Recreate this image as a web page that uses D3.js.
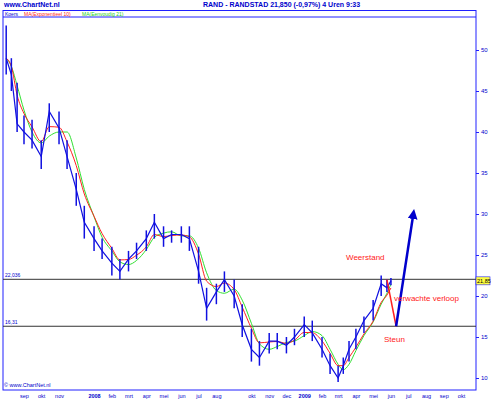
<!DOCTYPE html>
<html>
<head>
<meta charset="utf-8">
<script src="https://cdn.jsdelivr.net/npm/d3@7"></script>
<style>
body { margin: 0; background: #fff; }
text { font-family: Arial, "Liberation Sans", sans-serif; }
</style>
</head>
<body>
<div id="chart"></div>
<script>
// price readings, roughly every two weeks
const dates = ["2007-08-01","2007-08-10","2007-08-20","2007-09-01","2007-09-15","2007-10-01","2007-10-15","2007-11-01","2007-11-15","2007-12-01","2007-12-15","2008-01-01","2008-01-15","2008-02-01","2008-02-15","2008-03-01","2008-03-15","2008-04-01","2008-04-15","2008-05-01","2008-05-15","2008-06-01","2008-06-15","2008-07-01","2008-07-15","2008-08-01","2008-08-15","2008-09-01","2008-09-15","2008-10-01","2008-10-15","2008-11-01","2008-11-15","2008-12-01","2008-12-15","2009-01-01","2009-01-15","2009-02-01","2009-02-15","2009-03-01","2009-03-10","2009-03-20","2009-04-01","2009-04-15","2009-05-01","2009-05-15","2009-05-25","2009-06-01"];
const highs  = [53.0,49.0,46.0,42.0,41.5,39.0,43.5,42.5,39.0,35.0,31.0,28.5,27.0,26.0,24.5,25.5,26.5,28.0,30.0,28.5,28.0,28.5,28.5,26.0,21.0,21.5,23.0,22.0,19.0,16.0,14.5,15.5,15.5,15.0,16.0,17.5,17.0,15.0,13.0,11.5,12.5,14.5,16.0,17.5,19.5,22.5,22.0,22.2];
const lows   = [47.0,45.0,40.0,38.5,38.0,35.5,40.0,38.5,35.5,31.0,27.0,25.5,24.5,22.5,22.0,23.0,24.5,25.5,27.0,26.0,26.5,26.5,25.5,21.5,17.0,19.0,20.5,18.5,15.0,12.0,11.5,13.0,13.5,13.0,14.0,15.0,14.5,12.5,10.5,9.5,10.5,12.0,13.5,15.5,17.0,20.0,20.5,21.3];
const closes = [49.0,47.0,41.0,40.0,39.0,37.0,42.5,40.5,37.0,33.0,29.0,27.0,25.5,24.0,23.0,24.5,25.5,27.0,29.0,27.0,27.5,27.5,27.0,23.0,18.5,20.5,22.0,20.0,16.5,13.5,12.5,14.5,14.5,14.0,15.0,16.5,15.5,13.5,11.5,10.0,11.5,13.5,15.0,17.0,18.5,21.5,21.0,21.85];
const monthTicks = ["2007-09-01","2007-10-01","2007-11-01","2008-01-01","2008-02-01","2008-03-01","2008-04-01","2008-05-01","2008-06-01","2008-07-01","2008-08-01","2008-10-01","2008-11-01","2008-12-01","2009-01-01","2009-02-01","2009-03-01","2009-04-01","2009-05-01","2009-06-01","2009-07-01","2009-08-01","2009-09-01","2009-10-01"];
const monthNames = ["sep","okt","nov","2008","feb","mrt","apr","mei","jun","jul","aug","okt","nov","dec","2009","feb","mrt","apr","mei","jun","jul","aug","sep","okt"];
const yTicks = [10,15,20,25,30,35,40,45,50];
const resistance = 22.036, support = 16.31;
const forecastDates = ["2009-05-25","2009-06-10","2009-07-10"];
const forecastValues = [22.0, 16.31, 30.0];

const width = 500, height = 400;
const parse = d3.timeParse("%Y-%m-%d");
const data = dates.map((d, i) => ({ date: parse(d), h: highs[i], l: lows[i], c: closes[i] }));

const x = d3.scaleTime().domain([parse("2007-09-01"), parse("2009-10-01")]).range([24, 461]);
const y = d3.scaleLinear().domain([10, 50]).range([378, 50]);

const svg = d3.select("#chart").append("svg").attr("width", width).attr("height", height);

// header
svg.append("text").attr("x", 4).attr("y", 7).attr("font-size", 7).attr("font-weight", "bold").attr("fill", "#0000cc").text("www.ChartNet.nl");
svg.append("text").attr("x", 203).attr("y", 7).attr("font-size", 7).attr("font-weight", "bold").attr("fill", "#0000cc").text("RAND - RANDSTAD   21,850 (-0,97%)    4 Uren  9:33");

// frame
svg.append("rect").attr("x", 3).attr("y", 10.5).attr("width", 473).attr("height", 379.5).attr("fill", "none").attr("stroke", "#2020ff").attr("stroke-width", 1);
svg.append("line").attr("x1", 3).attr("x2", 476).attr("y1", 17).attr("y2", 17).attr("stroke", "#2020ff");
svg.append("text").attr("x", 5).attr("y", 15.5).attr("font-size", 5).attr("fill", "#0000cc").text("Koers");
svg.append("text").attr("x", 24).attr("y", 15.5).attr("font-size", 5).attr("fill", "#ff2020").text("MA(Exponentieel 10)");
svg.append("text").attr("x", 82).attr("y", 15.5).attr("font-size", 5).attr("fill", "#20d020").text("MA(Eenvoudig 21)");
svg.append("text").attr("x", 4).attr("y", 387).attr("font-size", 5.5).attr("fill", "#0000cc").text("\u00a9 www.ChartNet.nl");

// y axis on right
const yAxis = svg.append("g").attr("transform", "translate(476,0)")
  .call(d3.axisRight(y).tickValues(yTicks).tickSize(3).tickPadding(2));
yAxis.select(".domain").remove();
yAxis.selectAll("line").attr("stroke", "#2020ff");
yAxis.selectAll("text").attr("font-size", 6).attr("fill", "#0000cc");

// x axis
const xAxis = svg.append("g").attr("transform", "translate(0,390)")
  .call(d3.axisBottom(x).tickValues(monthTicks.map(parse)).tickFormat((d, i) => monthNames[i]).tickSize(0).tickPadding(4));
xAxis.select(".domain").remove();
xAxis.selectAll("text").attr("font-size", 5.5).attr("fill", "#0000cc")
  .attr("font-weight", (d, i) => monthNames[i].length === 4 ? "bold" : "normal");

// support / resistance
[resistance, support].forEach(v => {
  svg.append("line").attr("x1", 3).attr("x2", 476).attr("y1", y(v)).attr("y2", y(v)).attr("stroke", "#333").attr("stroke-width", 1);
});
svg.append("text").attr("x", 5).attr("y", y(resistance) - 2).attr("font-size", 5).attr("fill", "#0000cc").text("22,036");
svg.append("text").attr("x", 5).attr("y", y(support) - 2).attr("font-size", 5).attr("fill", "#0000cc").text("16,31");

// moving averages computed from closes
const ema = []; const k = 2 / (3 + 1);
closes.forEach((c, i) => ema.push(i === 0 ? c : c * k + ema[i - 1] * (1 - k)));
const sma = closes.map((c, i) => d3.mean(closes.slice(Math.max(0, i - 2), i + 1)));

const line = d3.line().x(d => x(d[0])).y(d => y(d[1])).curve(d3.curveMonotoneX);
svg.append("path").datum(data.map((d, i) => [d.date, sma[i]])).attr("d", line).attr("fill", "none").attr("stroke", "#30e030").attr("stroke-width", 1);
svg.append("path").datum(data.map((d, i) => [d.date, ema[i]])).attr("d", line).attr("fill", "none").attr("stroke", "#ff2020").attr("stroke-width", 1);

// price: high-low bars plus close line
svg.append("g").selectAll("line").data(data).join("line")
  .attr("x1", d => x(d.date)).attr("x2", d => x(d.date))
  .attr("y1", d => y(d.h)).attr("y2", d => y(d.l))
  .attr("stroke", "#1010e0").attr("stroke-width", 1.5);
svg.append("path").datum(data).attr("d", d3.line().x(d => x(d.date)).y(d => y(d.c)))
  .attr("fill", "none").attr("stroke", "#1010e0").attr("stroke-width", 1.2);

// last price label
svg.append("rect").attr("x", 476).attr("y", y(21.85) - 4).attr("width", 14).attr("height", 8).attr("fill", "#ffff40").attr("stroke", "#2020ff").attr("stroke-width", 0.6);
svg.append("text").attr("x", 477).attr("y", y(21.85) + 2).attr("font-size", 5.5).attr("fill", "#000").text("21,85");

// forecast
const fc = forecastDates.map((d, i) => [parse(d), forecastValues[i]]);
svg.append("line").attr("x1", x(fc[0][0])).attr("y1", y(fc[0][1])).attr("x2", x(fc[1][0])).attr("y2", y(fc[1][1])).attr("stroke", "#ff2020").attr("stroke-width", 1.5);
svg.append("defs").append("marker").attr("id", "ah").attr("viewBox", "0 0 10 10").attr("refX", 5).attr("refY", 5)
  .attr("markerWidth", 4).attr("markerHeight", 4).attr("orient", "auto")
  .append("path").attr("d", "M0,0L10,5L0,10z").attr("fill", "#0000cc");
svg.append("line").attr("x1", x(fc[1][0])).attr("y1", y(fc[1][1])).attr("x2", x(fc[2][0])).attr("y2", y(fc[2][1]))
  .attr("stroke", "#0000cc").attr("stroke-width", 2.5).attr("marker-end", "url(#ah)");

svg.append("text").attr("x", 346).attr("y", 260).attr("font-size", 8).attr("fill", "#ff2020").text("Weerstand");
svg.append("text").attr("x", 394).attr("y", 301).attr("font-size", 8).attr("fill", "#ff2020").text("verwachte verloop");
svg.append("text").attr("x", 384).attr("y", 342).attr("font-size", 8).attr("fill", "#ff2020").text("Steun");
</script>
</body>
</html>
